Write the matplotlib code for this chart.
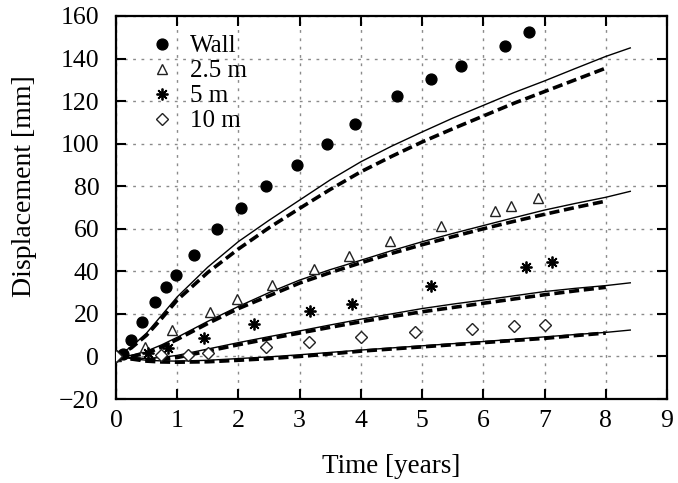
import matplotlib
matplotlib.use("Agg")
import matplotlib.pyplot as plt

# ---------------- data ----------------
wall_t = [0.0, 0.12, 0.25, 0.43, 0.63, 0.82, 0.98, 1.27, 1.65, 2.04, 2.45, 2.95, 3.44, 3.91, 4.59, 5.15, 5.64, 6.36, 6.75]
wall_d = [0.0, 1.2, 7.7, 16.0, 25.5, 32.7, 38.2, 47.8, 60.0, 69.6, 80.1, 90.0, 99.9, 109.3, 122.2, 130.5, 136.3, 146.0, 152.3]

m25_t = [0.0, 0.47, 0.92, 1.54, 1.97, 2.55, 3.24, 3.80, 4.47, 5.31, 6.19, 6.45, 6.90]
m25_d = [0.0, 4.6, 12.2, 20.8, 27.0, 33.7, 41.0, 47.2, 54.2, 61.4, 68.3, 70.8, 74.4]

m5_t = [0.0, 0.52, 0.85, 1.44, 2.26, 3.17, 3.85, 5.15, 6.69, 7.12]
m5_d = [0.0, 1.5, 4.1, 8.7, 15.4, 21.4, 24.5, 33.0, 41.9, 44.5]

m10_t = [0.0, 0.74, 1.17, 1.50, 2.45, 3.15, 4.00, 4.88, 5.82, 6.50, 7.00]
m10_d = [0.0, 0.6, 0.7, 1.6, 4.6, 7.0, 9.3, 11.3, 12.9, 14.2, 14.9]

# model curves (solid: to 8.4 years, dashed: to 8 years)
solid_t = [0.0, 0.25, 0.5, 0.75, 1.0, 1.5, 2.0, 2.5, 3.0, 3.5, 4.0, 4.5, 5.0, 5.5, 6.0, 6.5, 7.0, 7.5, 8.0, 8.4]
wall_solid = [0.0, 4.5, 11.0, 19.5, 28.0, 42.0, 54.0, 64.0, 73.5, 83.0, 91.5, 98.8, 105.5, 112.0, 118.0, 124.0, 129.5, 135.3, 141.0, 145.0]
m25_solid = [0.0, 0.5, 2.5, 5.5, 9.0, 16.5, 23.5, 30.0, 35.9, 40.8, 45.2, 49.7, 53.9, 57.8, 61.5, 65.2, 68.8, 71.9, 74.8, 77.6]
m5_solid = [0.0, -0.5, -1.0, -0.4, 0.5, 3.5, 6.5, 9.3, 12.0, 14.8, 17.5, 20.0, 22.5, 24.6, 26.5, 28.5, 30.5, 32.0, 33.3, 34.6]
m10_solid = [0.0, -1.0, -1.8, -2.1, -2.2, -1.8, -1.0, -0.2, 0.8, 1.9, 3.0, 4.0, 5.0, 6.0, 7.0, 8.1, 9.2, 10.3, 11.3, 12.4]

dash_t = [0.0, 0.25, 0.5, 0.75, 1.0, 1.5, 2.0, 2.5, 3.0, 3.5, 4.0, 4.5, 5.0, 5.5, 6.0, 6.5, 7.0, 7.5, 8.0]
wall_dash = [0.0, 4.0, 10.0, 18.0, 26.5, 39.5, 50.5, 60.5, 69.6, 78.5, 86.8, 94.0, 100.8, 107.0, 113.0, 119.0, 124.5, 130.0, 135.5]
m25_dash = [0.0, 0.0, 1.5, 4.5, 8.0, 15.5, 22.5, 28.5, 34.5, 39.4, 44.0, 48.4, 52.5, 56.3, 60.0, 63.5, 66.8, 70.0, 73.0]
m5_dash = [0.0, -1.0, -1.5, -1.2, -0.5, 2.5, 5.5, 8.3, 11.0, 13.7, 16.3, 18.7, 21.0, 23.0, 25.0, 27.0, 29.0, 30.8, 32.5]
m10_dash = [0.0, -1.2, -2.2, -2.6, -2.7, -2.5, -1.8, -1.0, 0.0, 1.2, 2.5, 3.5, 4.5, 5.5, 6.5, 7.5, 8.5, 9.8, 11.0]

labels = ["Wall", "2.5 m", "5 m", "10 m"]
xticks = list(range(0, 10))
yticks = list(range(-20, 161, 20))

# ---------------- style ----------------
plt.rcParams['font.family'] = ['Liberation Serif', 'DejaVu Serif']
plt.rcParams['mathtext.fontset'] = 'stix'
FS_TICK = 18.5
FS_LEG = 18
FS_XL = 19.5
FS_YL = 20.0

fig = plt.figure(figsize=(6.78, 4.83), dpi=100)
ax = fig.add_axes([116 / 678, 1 - 399 / 483, 551 / 678, 383 / 483])

# grid
ax.set_axisbelow(True)
ax.grid(True, color='#8a8a8a', linestyle=(0, (2, 4)), linewidth=1.0)

# model curves
for ys in (wall_solid, m25_solid, m5_solid, m10_solid):
    ax.plot(solid_t, ys, color='black', linewidth=1.0, zorder=3)
for ys in (wall_dash, m25_dash, m5_dash, m10_dash):
    ax.plot(dash_t, ys, color='black', linewidth=2.6, dashes=(2.8, 1.3), zorder=3)

# measured points
ax.plot(wall_t, wall_d, linestyle='none', marker='o', markersize=7.8,
        color='black', label=labels[0], zorder=4)
ax.plot(m25_t, m25_d, linestyle='none', marker='^', markersize=7.5,
        markerfacecolor='white', markeredgecolor='#222222', markeredgewidth=1.0,
        label=labels[1], zorder=4)
ax.plot(m5_t, m5_d, linestyle='none', marker=(8, 2, 0), markersize=8.5,
        color='black', markeredgewidth=1.3, label=labels[2], zorder=4)
ax.plot(m10_t, m10_d, linestyle='none', marker='D', markersize=5.8,
        markerfacecolor='white', markeredgecolor='#222222', markeredgewidth=1.0,
        label=labels[3], zorder=4)

ax.set_xlim(0, 9)
ax.set_ylim(-20, 160)
ax.set_xticks(xticks)
ax.set_yticks(yticks)
ax.tick_params(direction='in', length=7, width=1.5, top=True, right=True,
               labelsize=FS_TICK)
ax.tick_params(axis='x', pad=8)
ax.tick_params(axis='y', pad=12)
for sp in ax.spines.values():
    sp.set_linewidth(1.6)

ax.set_xlabel("Time [years]", fontsize=FS_XL, labelpad=16)
ax.set_ylabel("Displacement [mm]", fontsize=FS_YL)
ax.yaxis.set_label_coords(-0.144, 0.556)

leg = ax.legend(loc='upper left', frameon=False, fontsize=FS_LEG,
                handlelength=1.0, handletextpad=0.6, labelspacing=0.1,
                borderaxespad=0.0, borderpad=0.0, bbox_to_anchor=(0.061, 0.951))

fig.savefig("out.png", dpi=100)
